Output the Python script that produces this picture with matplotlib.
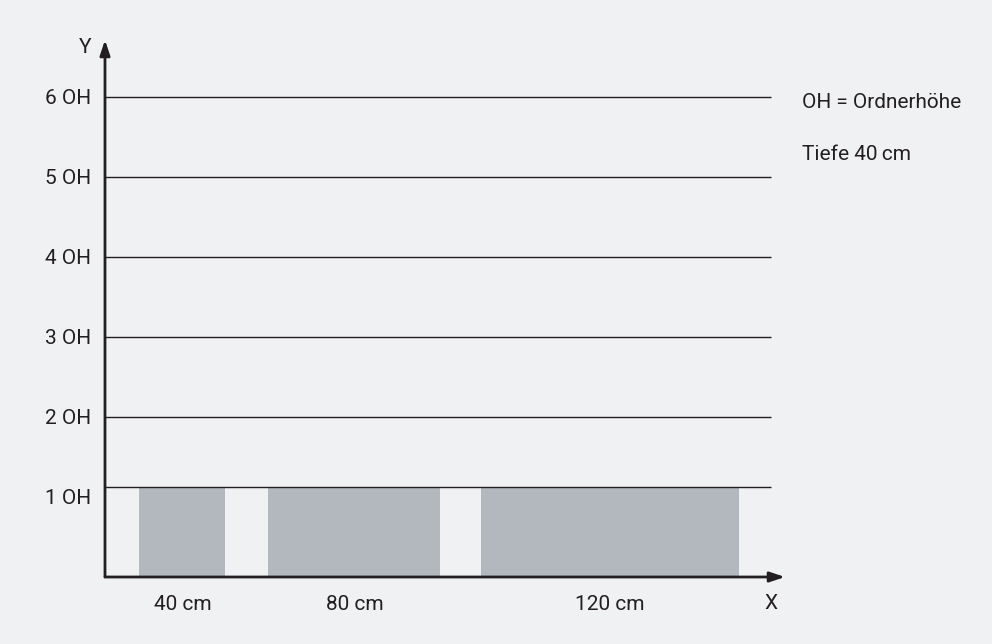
import matplotlib
matplotlib.use('Agg')
import matplotlib.pyplot as plt

plt.rcParams['font.family'] = ['Roboto', 'DejaVu Sans']

# Regalbreiten (cm) und Lage der Fächer
bar_labels = ['40 cm', '80 cm', '120 cm']
bar_left = [16, 76, 175]
bar_width = [40, 80, 120]
bar_height = 1.125

grid_levels = [2, 3, 4, 5, 6]
tick_levels = [1, 2, 3, 4, 5, 6]
tick_labels = ['1 OH', '2 OH', '3 OH', '4 OH', '5 OH', '6 OH']

bg = '#f0f1f3'
bar_color = '#b2b8be'
ink = '#231f20'
fs = 15

fig = plt.figure(figsize=(9.92, 6.44), dpi=100, facecolor=bg)
ax = fig.add_axes([105 / 992, (644 - 577) / 644, 680 / 992, 537 / 644])
ax.set_facecolor(bg)
ax.set_xlim(0, 316.3)
ax.set_ylim(0, 6.71)
for s in ax.spines.values():
    s.set_visible(False)

ax.bar(bar_left, bar_height, width=bar_width, align='edge', color=bar_color, zorder=1)

x_end = 310
ax.hlines(grid_levels + [bar_height], 0, x_end, color=ink, lw=1.0, zorder=2)

# Achsen mit Pfeilen
ax.annotate('', xy=(316.3, 0), xytext=(0, 0),
            arrowprops=dict(arrowstyle='-|>,head_length=0.9,head_width=0.3', color=ink, lw=2, shrinkA=0, shrinkB=0),
            annotation_clip=False, zorder=3)
ax.annotate('', xy=(0, 6.71), xytext=(0, 0),
            arrowprops=dict(arrowstyle='-|>,head_length=0.9,head_width=0.3', color=ink, lw=2, shrinkA=0, shrinkB=0),
            annotation_clip=False, zorder=3)

ax.set_yticks(tick_levels)
ax.set_yticklabels(tick_labels)
centers = [l + w / 2 for l, w in zip(bar_left, bar_width)]
ax.set_xticks(centers)
ax.set_xticklabels(bar_labels)
ax.tick_params(axis='y', length=0, pad=10, labelsize=fs, labelcolor=ink)
ax.tick_params(axis='x', length=0, pad=13, labelsize=fs, labelcolor=ink)

ax.text(-9.3, 6.62, 'Y', ha='center', va='center', fontsize=fs, color=ink)
ax.text(310, -0.33, 'X', ha='center', va='center', fontsize=fs, color=ink)

ax.text(324, 5.93, 'OH = Ordnerhöhe', ha='left', va='center', fontsize=fs, color=ink,
        clip_on=False)
ax.text(324, 5.28, 'Tiefe 40\u2009cm', ha='left', va='center', fontsize=fs, color=ink,
        clip_on=False)

fig.savefig('out.png', dpi=100, facecolor=bg)
